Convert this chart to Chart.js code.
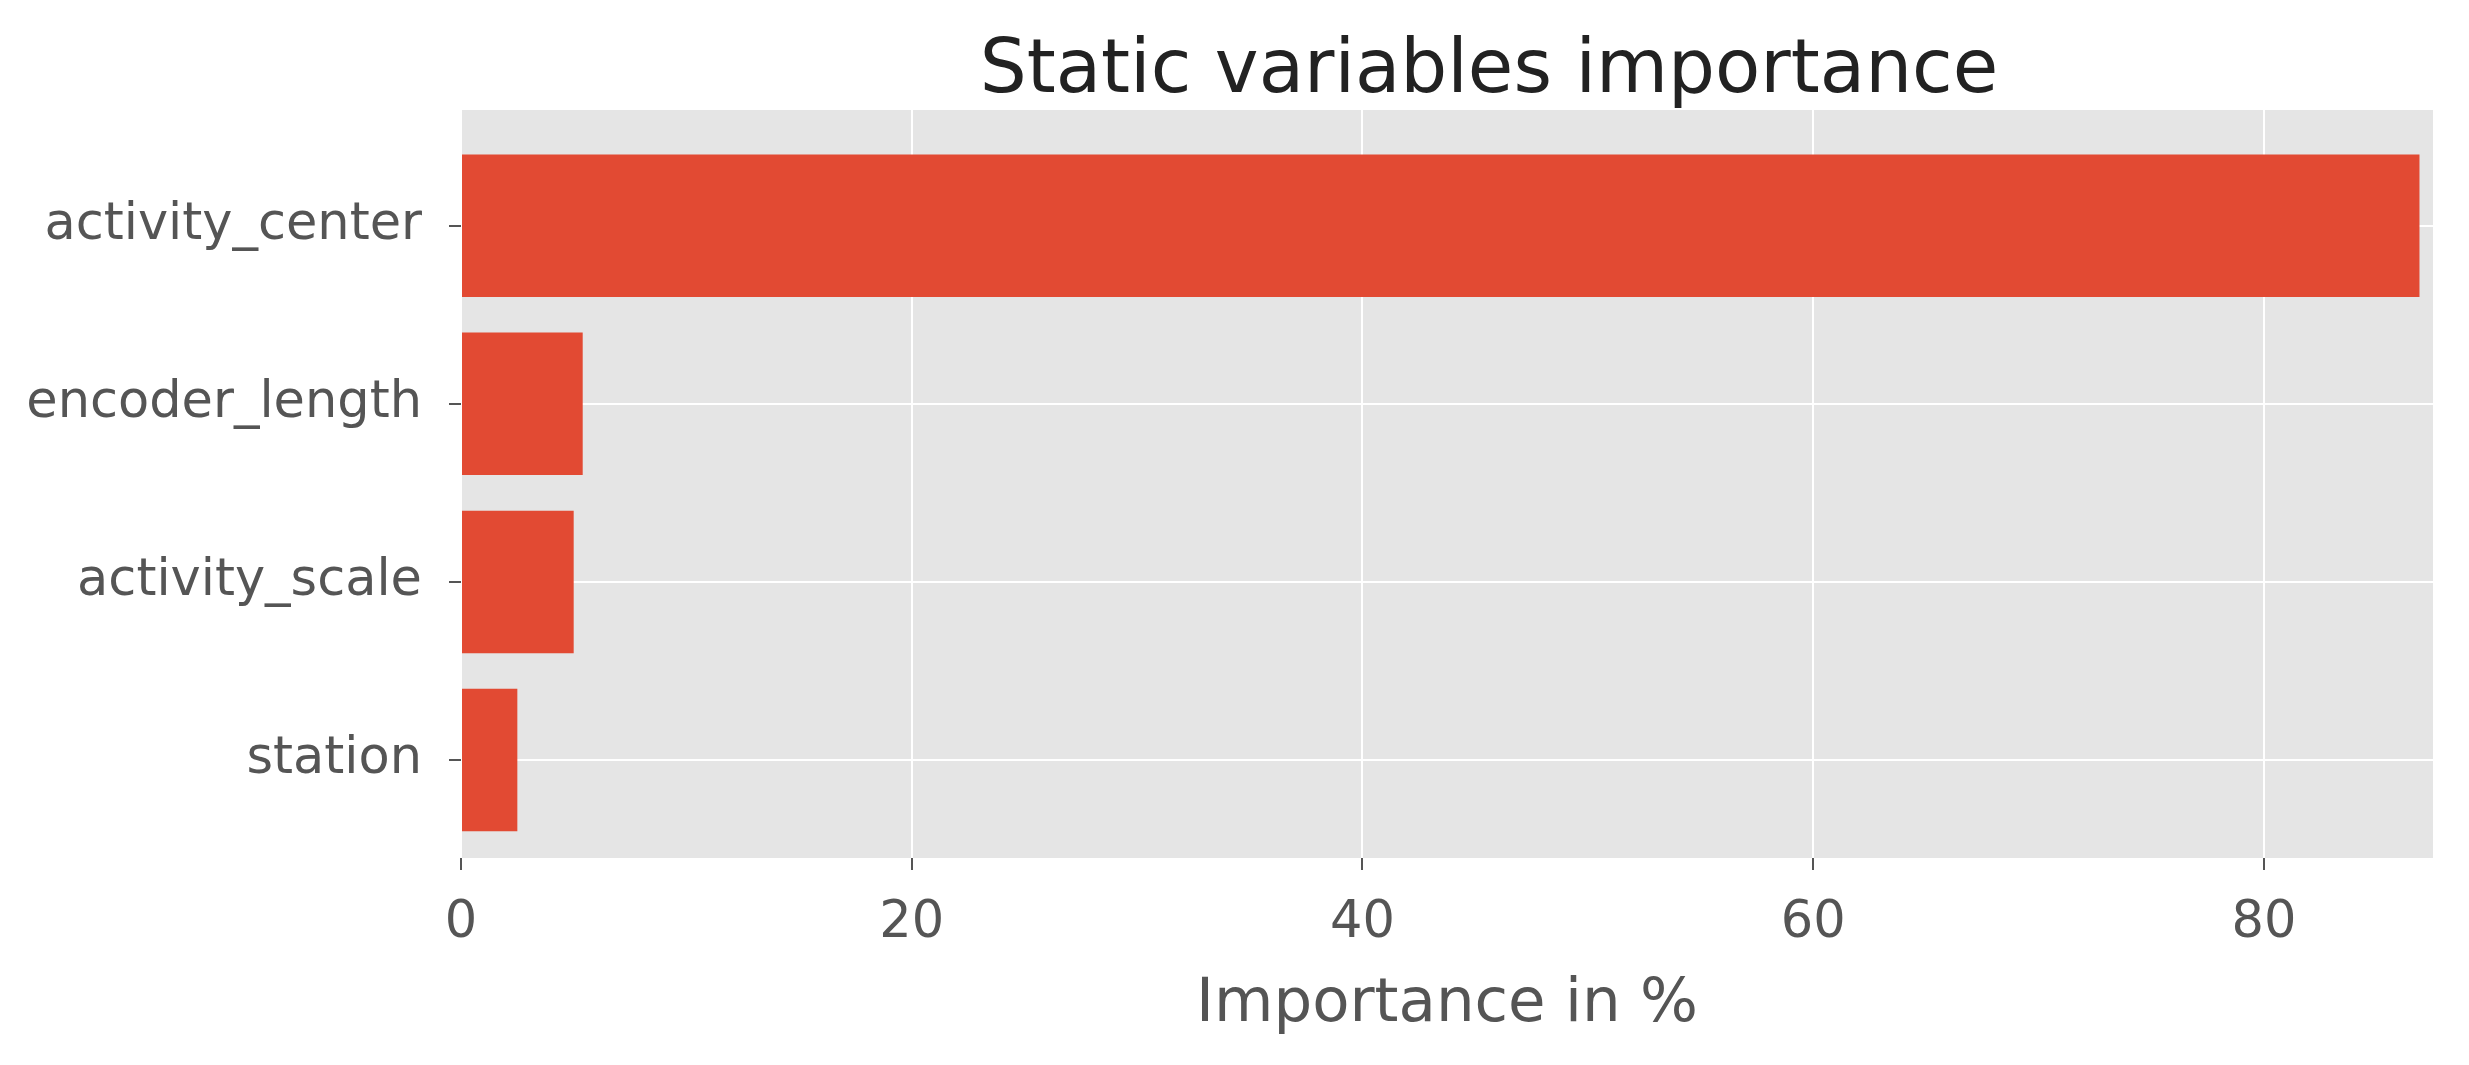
<!DOCTYPE html>
<html>
<head>
<meta charset="utf-8">
<script src="https://cdn.jsdelivr.net/npm/chart.js@4/dist/chart.umd.min.js"></script>
<style>
    html, body { margin: 0; padding: 0; background: #ffffff; }
    #wrap { width: 2469px; height: 1065px; }
</style>
</head>
<body>
<div id="wrap"><canvas id="graficaImportancia" width="2469" height="1065"></canvas></div>
<script>
// datos (de arriba hacia abajo)
const variables = ["activity_center", "encoder_length", "activity_scale", "station"];
const importancia = [86.9, 5.4, 5.0, 2.5];
const ticksX = [0, 20, 40, 60, 80];
const maxX = 87.5;

const colorBarra = "#E24A33";
const colorFondo = "#E5E5E5";
const colorTexto = "#555555";

// fondo gris del area del grafico (estilo ggplot)
const fondoArea = {
    id: "fondoArea",
    afterLayout(chart) {
        // el titulo va un poco a la derecha del centro del area
        if (chart.titleBlock) {
            chart.titleBlock.left += 42;
            chart.titleBlock.right += 42;
        }
    },
    beforeDraw(chart) {
        const { ctx, chartArea } = chart;
        ctx.save();
        ctx.fillStyle = colorFondo;
        ctx.fillRect(chartArea.left, chartArea.top, chartArea.right - chartArea.left, chartArea.bottom - chartArea.top);
        ctx.restore();
    },
};

function renderizarGrafica() {
    const ctx = document.getElementById("graficaImportancia").getContext("2d");
    const puntos = variables.map((v, i) => ({ x: importancia[i], y: i }));

    new Chart(ctx, {
        type: "bar",
        data: {
            datasets: [
                {
                    label: "Importance",
                    data: puntos,
                    backgroundColor: colorBarra,
                    borderWidth: 0,
                    categoryPercentage: 1,
                    barPercentage: 0.8,
                },
            ],
        },
        options: {
            indexAxis: "y",
            responsive: false,
            animation: false,
            layout: { padding: { left: 0, right: 36, top: 0, bottom: 0 } },
            plugins: {
                legend: { display: false },
                tooltip: { enabled: false },
                title: {
                    display: true,
                    fullSize: false, // centrado sobre el area del grafico
                    text: "Static variables importance",
                    color: "#222222",
                    font: { family: "DejaVu Sans", size: 74, weight: "normal", lineHeight: 1.0 },
                    padding: { top: 36, bottom: 0 },
                },
            },
            scales: {
                x: {
                    type: "linear",
                    min: 0,
                    max: maxX,
                    afterBuildTicks: (scale) => {
                        scale.ticks = ticksX.map((v) => ({ value: v }));
                    },
                    afterFit: (scale) => {
                        scale.height = 207;
                    },
                    border: { display: false },
                    grid: {
                        color: "#ffffff",
                        lineWidth: 2,
                        tickColor: colorTexto,
                        tickLength: 12,
                    },
                    ticks: {
                        color: colorTexto,
                        padding: 23,
                        font: { family: "DejaVu Sans", size: 51 },
                    },
                    title: {
                        display: true,
                        text: "Importance in %",
                        color: colorTexto,
                        font: { family: "DejaVu Sans", size: 61, lineHeight: 1.2 },
                        padding: { top: 0, bottom: 23 },
                    },
                },
                y: {
                    type: "linear",
                    reverse: true,
                    offset: false,
                    min: -0.65,
                    max: 3.55,
                    afterBuildTicks: (scale) => {
                        scale.ticks = variables.map((v, i) => ({ value: i }));
                    },
                    afterFit: (scale) => {
                        scale.width = 461;
                    },
                    border: { display: false },
                    grid: {
                        offset: false,
                        color: "#ffffff",
                        lineWidth: 2,
                        tickColor: colorTexto,
                        tickLength: 12,
                    },
                    ticks: {
                        color: colorTexto,
                        padding: 27,
                        font: { family: "DejaVu Sans", size: 51 },
                        callback: (valor) => variables[valor] ?? "",
                    },
                },
            },
        },
        plugins: [fondoArea],
    });
}

renderizarGrafica();
</script>
</body>
</html>
